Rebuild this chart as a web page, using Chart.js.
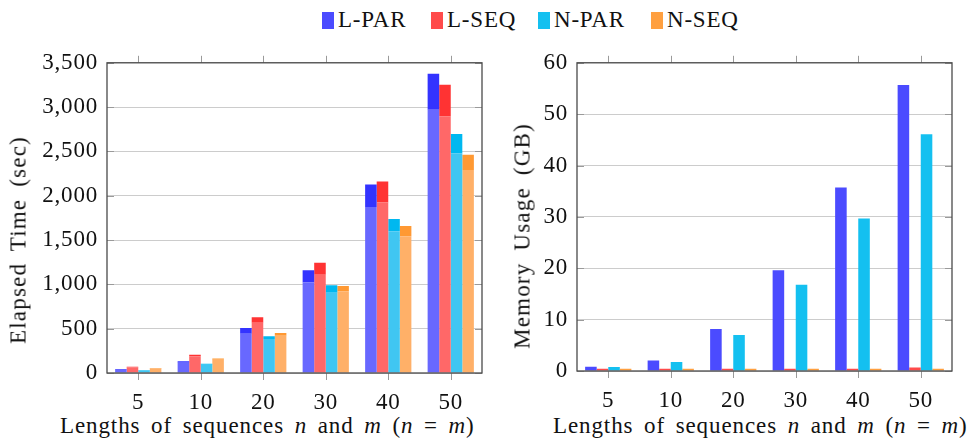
<!DOCTYPE html>
<html>
<head>
<meta charset="utf-8">
<script src="https://cdn.jsdelivr.net/npm/chart.js@4/dist/chart.umd.min.js"></script>
<style>
  body { margin: 0; width: 979px; height: 438px; background: #fff; position: relative; overflow: hidden;
         font-family: "Liberation Serif", serif; color: #111; }
  .legendItem { position: absolute; top: 8px; height: 24px; display: flex; align-items: center; font-size: 23px; letter-spacing: 0.8px; white-space: nowrap; }
  .legendItem span.box { display: inline-block; width: 12px; height: 17px; margin-right: 4px; }
  .box1 { position: absolute; left: 0; top: 40px; width: 490px; height: 372px; }
  .box2 { position: absolute; left: 490px; top: 40px; width: 489px; height: 372px; }
  .xTitle { position: absolute; top: 414px; font-size: 23px; line-height: 23px; letter-spacing: 0.9px; word-spacing: 4px; white-space: nowrap; }
  .yTitle { position: absolute; font-size: 23px; line-height: 23px; letter-spacing: 1.2px; word-spacing: 5px; white-space: nowrap;
            transform: translate(-50%, -50%) rotate(-90deg); }
</style>
</head>
<body>
<div id="legend"></div>
<div class="box1"><canvas id="timeChart"></canvas></div>
<div class="box2"><canvas id="memChart"></canvas></div>
<div class="yTitle" style="left:18px; top:240px">Elapsed Time (sec)</div>
<div class="yTitle" style="left:522px; top:236px">Memory Usage (GB)</div>
<div class="xTitle" style="left:60px">Lengths of sequences <i>n</i> and <i>m</i> (<i>n</i> = <i>m</i>)</div>
<div class="xTitle" style="left:553px">Lengths of sequences <i>n</i> and <i>m</i> (<i>n</i> = <i>m</i>)</div>
<script>
// Categories and series
const sizes = ['5', '10', '20', '30', '40', '50'];
const series = ['L-PAR', 'L-SEQ', 'N-PAR', 'N-SEQ'];

// Elapsed time (sec): total height and the lighter lower part of each bar
const timeTotalLPar = [41, 132, 508, 1158, 2128, 3376];
const timeTotalLSeq = [71, 207, 628, 1245, 2162, 3252];
const timeTotalNPar = [34, 105, 414, 989, 1737, 2696];
const timeTotalNSeq = [56, 165, 451, 981, 1658, 2463];
const timeBaseLPar = [33, 117, 444, 1023, 1872, 2970];
const timeBaseLSeq = [63, 188, 568, 1109, 1925, 2895];
const timeBaseNPar = [28, 94, 384, 906, 1598, 2478];
const timeBaseNSeq = [50, 150, 421, 921, 1542, 2290];

// Memory usage (GB)
const memLPar = [0.84, 2.06, 8.2, 19.6, 35.7, 55.7];
const memLSeq = [0.45, 0.45, 0.45, 0.45, 0.45, 0.7];
const memNPar = [0.77, 1.74, 7.0, 16.8, 29.7, 46.1];
const memNSeq = [0.45, 0.45, 0.45, 0.45, 0.45, 0.45];

const mainColors = ['#4b4bff', '#ff4b4b', '#14c0f0', '#ffa040'];
const lightColors = ['#6868ff', '#ff6868', '#40c6f2', '#ffb068'];
const darkColors = ['#3333ff', '#ff3333', '#00b8f0', '#ff9933'];

// Legend (shared by both charts)
const legendLeft = [322, 431, 538, 651];
let legend = document.getElementById('legend');
series.forEach((name, i) => {
    let item = document.createElement('div');
    item.className = 'legendItem';
    item.style.left = legendLeft[i] + 'px';
    item.innerHTML = '<span class="box" style="background:' + mainColors[i] + '"></span>' + name;
    legend.appendChild(item);
});

Chart.defaults.font.family = '"Liberation Serif", serif';
Chart.defaults.font.size = 23;
Chart.defaults.color = '#111';

// Wider letter spacing, a bit closer to the original TeX font
const spacing = {
    id: 'spacing',
    beforeDraw(chart) { chart.ctx.letterSpacing = '0.8px'; }
};

// Frame, inner y ticks and outer x ticks like the original plot
const frame = {
    id: 'frame',
    afterDatasetsDraw(chart) {
        const { ctx, chartArea: a, scales: { x, y } } = chart;
        ctx.save();
        ctx.strokeStyle = '#9a9a9a';
        ctx.lineWidth = 1;
        ctx.beginPath();
        y.ticks.forEach((t, i) => {
            const py = Math.round(y.getPixelForTick(i)) + 0.5;
            ctx.moveTo(a.left, py); ctx.lineTo(a.left + 7, py);
            ctx.moveTo(a.right - 7, py); ctx.lineTo(a.right, py);
        });
        x.ticks.forEach((t, i) => {
            const px = Math.round(x.getPixelForTick(i)) + 0.5;
            ctx.moveTo(px, a.bottom); ctx.lineTo(px, a.bottom + 7);
            ctx.moveTo(px, a.top - 7); ctx.lineTo(px, a.top);
        });
        ctx.stroke();
        ctx.strokeStyle = '#4a4a4a';
        ctx.lineWidth = 1.3;
        ctx.strokeRect(a.left, a.top, a.width, a.height);
        ctx.restore();
    }
};

function baseOptions(yMax, yStep, yWidth, pad) {
    return {
        responsive: true,
        maintainAspectRatio: false,
        animation: false,
        layout: { padding: pad },
        plugins: { legend: { display: false }, tooltip: { enabled: false } },
        datasets: { bar: { categoryPercentage: 0.74, barPercentage: 1.0 } },
        scales: {
            x: {
                stacked: true,
                grid: { display: false, drawTicks: false },
                border: { display: false },
                ticks: { padding: 16 },
                afterFit(scale) { scale.height = pad.xHeight; }
            },
            y: {
                stacked: true,
                min: 0, max: yMax,
                grid: { color: '#cccccc', lineWidth: 1, drawTicks: false },
                border: { display: false },
                ticks: { stepSize: yStep, padding: 9 },
                afterFit(scale) { scale.width = yWidth; }
            }
        }
    };
}

// Left chart: stacked bars, lighter lower part and darker upper part
const timeTotals = [timeTotalLPar, timeTotalLSeq, timeTotalNPar, timeTotalNSeq];
const timeBases = [timeBaseLPar, timeBaseLSeq, timeBaseNPar, timeBaseNSeq];
let timeDatasets = [];
series.forEach((name, i) => {
    timeDatasets.push({ label: name, data: timeBases[i], stack: name, backgroundColor: lightColors[i] });
    timeDatasets.push({ label: name + ' top', data: timeTotals[i].map((v, j) => v - timeBases[i][j]),
                        stack: name, backgroundColor: darkColors[i] });
});

let pad1 = { top: 22, right: 8, bottom: 0, left: 0, xHeight: 39 };
new Chart(document.getElementById('timeChart'), {
    type: 'bar',
    data: { labels: sizes, datasets: timeDatasets },
    options: baseOptions(3500, 500, 107, pad1),
    plugins: [spacing, frame]
});

// Right chart: memory usage
const memValues = [memLPar, memLSeq, memNPar, memNSeq];
let pad2 = { top: 20, right: 27, bottom: 0, left: 0, xHeight: 41 };
new Chart(document.getElementById('memChart'), {
    type: 'bar',
    data: {
        labels: sizes,
        datasets: series.map((name, i) => ({ label: name, data: memValues[i], stack: name, backgroundColor: mainColors[i] }))
    },
    options: baseOptions(60, 10, 87, pad2),
    plugins: [spacing, frame]
});
</script>
</body>
</html>
